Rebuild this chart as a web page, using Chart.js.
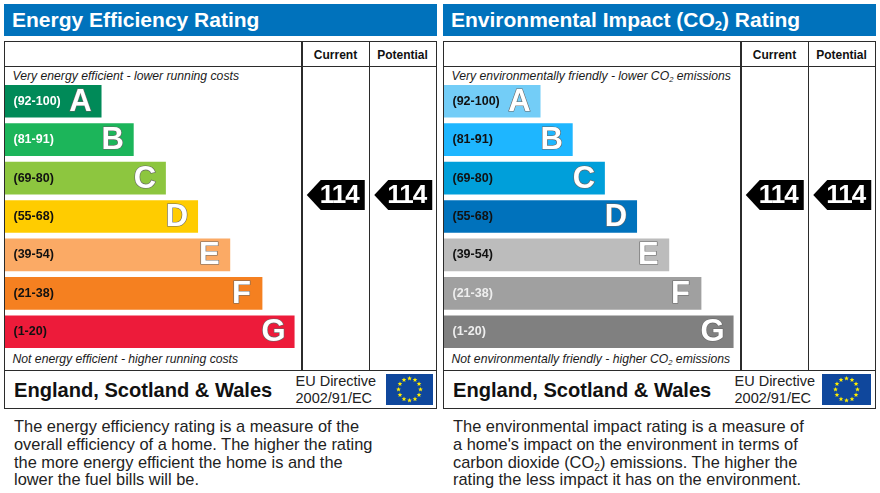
<!DOCTYPE html>
<html>
<head>
<meta charset="utf-8">
<title>Energy and Environmental Rating</title>
<script src="https://cdn.jsdelivr.net/npm/chart.js@4"></script>
<style>
  html, body { margin: 0; padding: 0; background: #fff; }
  body { width: 880px; height: 493px; position: relative; overflow: hidden; font-family: "Liberation Sans", Arial, sans-serif; color: #111; }
  .abs { position: absolute; white-space: nowrap; }
  .box { position: absolute; box-sizing: border-box; }
  .title { background: #0072bc; color: #fff; font-weight: bold; font-size: 21px; line-height: 32px; height: 32px; }
  .title span { position: absolute; left: 8px; top: 0; white-space: nowrap; }
  sub { font-size: 62%; line-height: 0; vertical-align: -0.25em; }
  .head { font-weight: bold; font-size: 12px; line-height: 16px; text-align: center; }
  .note { font-style: italic; font-size: 12.2px; line-height: 16px; color: #1a1a1a; }
  .region { font-weight: bold; font-size: 20.1px; line-height: 24px; color: #111; }
  .eu { font-size: 14.5px; line-height: 16.5px; color: #222; }
  .body { font-size: 16.4px; line-height: 17.8px; color: #222; }
  canvas { position: absolute; }
</style>
</head>
<body>
<script>
// Rating bands, top to bottom
const bands = ['(92-100)', '(81-91)', '(69-80)', '(55-68)', '(39-54)', '(21-38)', '(1-20)'];
const letters = ['A', 'B', 'C', 'D', 'E', 'F', 'G'];
// Bar length of each band, in steps
const barLengths = [3, 4, 5, 6, 7, 8, 9];

const columns = ['Current', 'Potential'];
const energyRatings = [114, 114];
const environmentRatings = [114, 114];

const energyColours = ['#008a58', '#1cb55a', '#8dc63f', '#ffcc00', '#fbaa65', '#f58020', '#ed1b3a'];
const environmentColours = ['#73cdf7', '#1eb6ff', '#009fda', '#0072bc', '#bcbcbc', '#a0a0a0', '#808080'];
const energyLabelColours = ['#fff', '#fff', '#111', '#111', '#111', '#111', '#111'];
const environmentLabelColours = ['#111', '#111', '#111', '#111', '#111', '#eee', '#eee'];

const panels = [
  {
    left: 4,
    title: 'Energy Efficiency Rating',
    top: 'Very energy efficient - lower running costs',
    bottom: 'Not energy efficient - higher running costs',
    colours: energyColours,
    labelColours: energyLabelColours,
    ratings: energyRatings,
    flagLeft: 386,
    flagWidth: 47,
    text: 'The energy efficiency rating is a measure of the<br>overall efficiency of a home. The higher the rating<br>the more energy efficient the home is and the<br>lower the fuel bills will be.'
  },
  {
    left: 443,
    title: 'Environmental Impact (CO<sub>2</sub>) Rating',
    top: 'Very environmentally friendly - lower CO<sub>2</sub> emissions',
    bottom: 'Not environmentally friendly - higher CO<sub>2</sub> emissions',
    colours: environmentColours,
    labelColours: environmentLabelColours,
    ratings: environmentRatings,
    flagLeft: 822,
    flagWidth: 49,
    text: 'The environmental impact rating is a measure of<br>a home\'s impact on the environment in terms of<br>carbon dioxide (CO<sub>2</sub>) emissions. The higher the<br>rating the less impact it has on the environment.'
  }
];

function addEl(className, style, html) {
  const el = document.createElement('div');
  el.className = className;
  el.style.cssText = style;
  if (html) el.innerHTML = html;
  document.body.appendChild(el);
  return el;
}

// Big white letter near the end of each bar
const letterPlugin = {
  id: 'letters',
  afterDatasetsDraw(chart) {
    const ctx = chart.ctx;
    ctx.save();
    ctx.font = 'bold 31px "Liberation Sans", Arial, sans-serif';
    ctx.textAlign = 'center';
    ctx.textBaseline = 'middle';
    ctx.lineWidth = 1.2;
    ctx.strokeStyle = '#666';
    ctx.fillStyle = '#fff';
    chart.getDatasetMeta(0).data.forEach((bar, i) => {
      ctx.strokeText(letters[i], bar.x - 21, bar.y + 1);
      ctx.fillText(letters[i], bar.x - 21, bar.y + 1);
    });
    ctx.restore();
  }
};

// Black tag pointing left, with the rating inside
const arrowPlugin = {
  id: 'arrows',
  afterDatasetsDraw(chart) {
    const ctx = chart.ctx;
    ctx.save();
    chart.getDatasetMeta(0).data.forEach((pt, i) => {
      const x = pt.x, y = pt.y;
      ctx.fillStyle = '#000';
      ctx.beginPath();
      ctx.moveTo(x - 29, y);
      ctx.lineTo(x - 15, y - 15);
      ctx.lineTo(x + 29, y - 15);
      ctx.lineTo(x + 29, y + 15);
      ctx.lineTo(x - 15, y + 15);
      ctx.closePath();
      ctx.fill();
      ctx.fillStyle = '#fff';
      ctx.font = 'bold 26px "Liberation Sans", Arial, sans-serif';
      ctx.letterSpacing = '-1px';
      ctx.textAlign = 'right';
      ctx.textBaseline = 'middle';
      ctx.fillText(String(chart.data.datasets[0].data[i]), x + 23, y + 1);
    });
    ctx.restore();
  }
};

function drawFlag(left, width) {
  const stars = [];
  const cx = width / 2, cy = 15.5;
  for (let i = 0; i < 12; i++) {
    const a = i * Math.PI / 6;
    const sx = cx + Math.sin(a) * 11, sy = cy - Math.cos(a) * 11;
    const pts = [];
    for (let k = 0; k < 10; k++) {
      const r = k % 2 ? 1.1 : 2.5;
      const b = k * Math.PI / 5;
      pts.push((sx + Math.sin(b) * r).toFixed(2) + ',' + (sy - Math.cos(b) * r).toFixed(2));
    }
    stars.push('<polygon fill="#ffed00" points="' + pts.join(' ') + '"/>');
  }
  addEl('box', 'left:' + left + 'px;top:374px;width:' + width + 'px;height:31px;',
    '<svg width="' + width + '" height="31" style="display:block"><rect width="' + width + '" height="31" fill="#0f479c"/>' + stars.join('') + '</svg>');
}

function buildPanel(p) {
  const l = p.left;
  addEl('box title', 'left:' + l + 'px;top:4px;width:433px;', '<span>' + p.title + '</span>');

  // outer frame and rules
  addEl('box', 'left:' + l + 'px;top:41px;width:433px;height:368px;border:1.5px solid #2b2b2b;');
  addEl('box', 'left:' + l + 'px;top:65.5px;width:433px;height:1.5px;background:#2b2b2b;');
  addEl('box', 'left:' + l + 'px;top:369.5px;width:433px;height:1.5px;background:#2b2b2b;');
  addEl('box', 'left:' + (l + 297) + 'px;top:41px;width:1.5px;height:329px;background:#2b2b2b;');
  addEl('box', 'left:' + (l + 364.5) + 'px;top:41px;width:1.5px;height:329px;background:#2b2b2b;');

  addEl('abs head', 'left:' + (l + 298.5) + 'px;top:47px;width:66px;', columns[0]);
  addEl('abs head', 'left:' + (l + 366) + 'px;top:47px;width:65px;', columns[1]);

  addEl('abs note', 'left:' + (l + 8.5) + 'px;top:68px;', p.top);
  addEl('abs note', 'left:' + (l + 8.5) + 'px;top:351px;', p.bottom);

  addEl('abs region', 'left:' + (l + 10) + 'px;top:378px;', 'England, Scotland &amp; Wales');
  addEl('abs eu', 'left:' + (l + 291.5) + 'px;top:373px;', 'EU Directive<br>2002/91/EC');
  drawFlag(p.flagLeft, p.flagWidth);

  addEl('abs body', 'left:' + (l + 10) + 'px;top:418px;', p.text);

  // band bars
  const barCanvas = document.createElement('canvas');
  barCanvas.style.cssText = 'left:' + (l + 1) + 'px;top:82px;';
  barCanvas.width = 296;
  barCanvas.height = 269;
  document.body.appendChild(barCanvas);
  new Chart(barCanvas, {
    type: 'bar',
    data: {
      labels: bands,
      datasets: [{
        data: barLengths,
        backgroundColor: p.colours,
        barPercentage: 0.85,
        categoryPercentage: 1
      }]
    },
    options: {
      indexAxis: 'y',
      responsive: false,
      animation: false,
      events: [],
      plugins: { legend: { display: false }, tooltip: { enabled: false } },
      layout: { padding: 0 },
      scales: {
        x: { display: false, min: 0, max: 9.2 },
        y: {
          grid: { display: false, drawTicks: false },
          border: { display: false },
          afterFit(scale) {
            // labels sit inside the bars, so the axis takes no room
            scale.width = 0;
            scale.paddingTop = 0;
            scale.paddingBottom = 0;
            scale.paddingLeft = 0;
            scale.paddingRight = 0;
          },
          ticks: {
            mirror: true,
            z: 1,
            padding: 8.5,
            color: (c) => p.labelColours[c.index],
            font: { family: '"Liberation Sans", Arial, sans-serif', weight: 'bold', size: 12.5 }
          }
        }
      }
    },
    plugins: [letterPlugin]
  });

  // rating tags in the two right-hand columns
  const tagCanvas = document.createElement('canvas');
  tagCanvas.style.cssText = 'left:' + (l + 298) + 'px;top:67px;';
  tagCanvas.width = 135;
  tagCanvas.height = 302;
  document.body.appendChild(tagCanvas);
  new Chart(tagCanvas, {
    type: 'line',
    data: {
      labels: columns,
      datasets: [{ data: p.ratings, showLine: false, pointRadius: 0 }]
    },
    options: {
      responsive: false,
      animation: false,
      events: [],
      plugins: { legend: { display: false }, tooltip: { enabled: false } },
      layout: { padding: 0 },
      scales: {
        x: { display: false, offset: true },
        y: { display: false, min: 0, max: 198 }
      }
    },
    plugins: [arrowPlugin]
  });
}

panels.forEach(buildPanel);
</script>
</body>
</html>
